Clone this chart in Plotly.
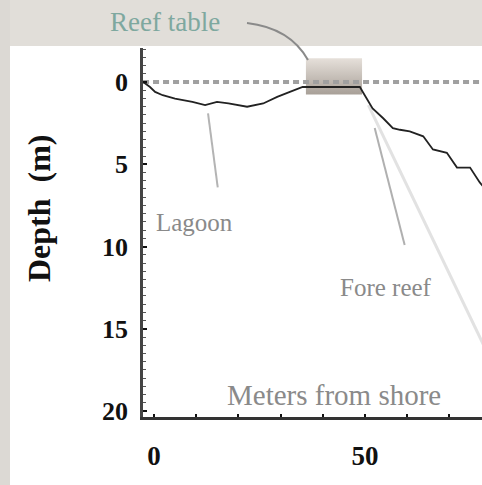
import plotly.graph_objects as go

# ---- data ----
profile_x = [-2.56, -0.95, 0.26, 2.06, 4.98, 7.09, 9.10, 12.11, 14.93, 17.64, 22.06, 25.88, 29.19,
             32.2, 35.22, 39.24, 44.27, 48.79, 49.48, 51.8, 54.31, 56.6, 58.3, 60.6, 63.8, 66.1,
             69.4, 71.8, 74.9, 77.2, 78.5]
profile_depth = [0, 0.3, 0.6, 0.8, 1.0, 1.1, 1.2, 1.4, 1.2, 1.3, 1.5, 1.3, 0.9, 0.6, 0.3, 0.3,
                 0.3, 0.3, 0.6, 1.6, 2.2, 2.8, 2.9, 3.0, 3.3, 4.1, 4.3, 5.2, 5.2, 6.1, 6.5]
reef_table_x = [36.0, 49.3]
reef_table_depth = [-1.45, 0.75]
sea_level_depth = 0
x_ticks = [0, 10, 20, 30, 40, 50, 60, 70]
x_tick_text = ["0", "", "", "", "", "50", "", ""]
y_ticks = [0, 5, 10, 15, 20]
y_tick_text = ["0", "5", "10", "15", "20"]
lagoon_line_x = [12.8, 15.1]
lagoon_line_depth = [1.9, 6.4]
fore_line_x = [52.3, 59.4]
fore_line_depth = [2.8, 9.9]
fore_faint_x = [50.8, 78.5]
fore_faint_depth = [1.4, 16.2]

SERIF = "Liberation Serif"

fig = go.Figure()

# reef table block
fig.add_trace(go.Scatter(
    x=[reef_table_x[0], reef_table_x[1], reef_table_x[1], reef_table_x[0], reef_table_x[0]],
    y=[reef_table_depth[0], reef_table_depth[0], reef_table_depth[1], reef_table_depth[1], reef_table_depth[0]],
    mode="lines", line=dict(width=0), fill="toself",
    fillgradient=dict(type="vertical", colorscale=[[0, "#a8a098"], [1, "#e6e0da"]]),
    hoverinfo="skip", showlegend=False))

# sea level dashed line
fig.add_trace(go.Scatter(
    x=[-2.6, 80], y=[sea_level_depth, sea_level_depth], mode="lines",
    line=dict(color="#a0a0a0", width=4, dash="6px,4px"),
    hoverinfo="skip", showlegend=False))

# callout lines
for lx, ld, col, w in [(lagoon_line_x, lagoon_line_depth, "#b4b4b4", 2),
                       (fore_line_x, fore_line_depth, "#b0b0b0", 2),
                       (fore_faint_x, fore_faint_depth, "#e2e2e2", 3)]:
    fig.add_trace(go.Scatter(x=lx, y=ld, mode="lines", line=dict(color=col, width=w),
                             hoverinfo="skip", showlegend=False))

# reef profile
fig.add_trace(go.Scatter(
    x=profile_x, y=profile_depth, mode="lines",
    line=dict(color="#222222", width=1.8), showlegend=False))

def px_to_paper(px, py):
    return (px - 143) / 339, (417 - py) / 369

shapes = []
# gray frame (top band and left strip)
shapes.append(dict(type="rect", xref="paper", yref="paper", x0=-0.45, x1=1.05,
                   y0=(417 - 46) / 369, y1=1.2, fillcolor="#e1ded9", line=dict(width=0), layer="below"))
shapes.append(dict(type="rect", xref="paper", yref="paper", x0=-0.45, x1=(10 - 143) / 339,
                   y0=-0.2, y1=1.2, fillcolor="#dcd9d4", line=dict(width=0), layer="below"))
# reef table callout curve
p0 = px_to_paper(247, 23); p1 = px_to_paper(290, 28); p2 = px_to_paper(308, 60)
shapes.append(dict(type="path", xref="paper", yref="paper",
                   path=f"M {p0[0]},{p0[1]} Q {p1[0]},{p1[1]} {p2[0]},{p2[1]}",
                   line=dict(color="#8a8a8a", width=2)))

annotations = []
def add_text(text, px, py, size, color, bold=False, angle=0):
    x, y = px_to_paper(px, py)
    annotations.append(dict(text=f"<b>{text}</b>" if bold else text, x=x, y=y,
                            xref="paper", yref="paper", showarrow=False,
                            xanchor="center", yanchor="middle", textangle=angle,
                            font=dict(family=SERIF, size=size, color=color)))

add_text("Reef table", 165, 22, 27, "#7ea89f")
add_text("Lagoon", 194, 222, 25, "#8a8a8a")
add_text("Fore reef", 386, 287, 25, "#8a8a8a")
add_text("Meters from shore", 334, 395, 29, "#8a8a8a")
add_text("Depth  (m)", 39, 208, 32, "#111111", bold=True, angle=-90)

fig.update_layout(
    width=482, height=485,
    margin=dict(l=143, r=0, t=48, b=68),
    paper_bgcolor="white", plot_bgcolor="white",
    shapes=shapes, annotations=annotations,
    xaxis=dict(range=[-2.61, 77.73], tickvals=x_ticks, ticktext=x_tick_text,
               showgrid=False, zeroline=False, showline=True, linecolor="#333333", linewidth=2.5,
               ticks="inside", ticklen=3, tickwidth=2, tickcolor="#111111",
               ticklabelstandoff=13,
               tickfont=dict(family=SERIF, size=27, color="#111111", weight="bold")),
    yaxis=dict(range=[20.36, -2.07], tickvals=y_ticks, ticktext=y_tick_text,
               showgrid=False, zeroline=False, showline=True, linecolor="#444444", linewidth=2.5,
               ticks="inside", ticklen=4, tickwidth=2, tickcolor="#111111",
               minor=dict(dtick=0.5, ticks="inside", ticklen=3, tickcolor="#555555", tickwidth=1),
               ticklabelstandoff=7,
               tickfont=dict(family=SERIF, size=26, color="#111111", weight="bold")),
)

fig.write_html("out.html", config={"displayModeBar": False},
               post_script="document.body.style.margin='0';document.body.style.overflow='hidden';")
